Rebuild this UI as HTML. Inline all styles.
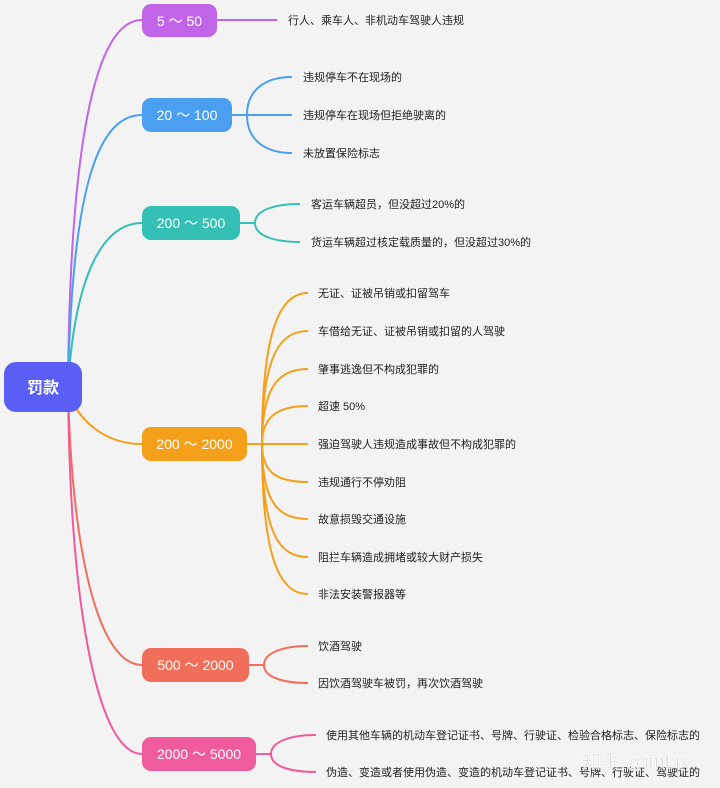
<!DOCTYPE html>
<html><head><meta charset="utf-8"><style>
html,body{margin:0;padding:0;background:#f3f3f3}
svg{display:block}
text{font-family:"Liberation Sans","Noto Sans CJK SC",sans-serif}
.t{font-size:11px;fill:#222}
.n{font-size:14px;fill:#fff;text-anchor:middle}
</style></head><body>
<svg width="720" height="788" viewBox="0 0 720 788" xmlns="http://www.w3.org/2000/svg">
<rect width="720" height="788" fill="#f3f3f3"/>
<g fill="none" stroke-width="2">
<path d="M68,387 C70,120 100,20 142,20" stroke="#c264e8"/>
<path d="M68,387 C72,180 100,115 142,115" stroke="#4a9ff0"/>
<path d="M68,387 C75,270 105,223 142,223" stroke="#34c0b5"/>
<path d="M68,387 C75,420 105,444 142,444" stroke="#f5a01a"/>
<path d="M68,387 C72,560 100,665 142,665" stroke="#f06e5a"/>
<path d="M68,387 C70,620 100,754 142,754" stroke="#ef5b9c"/>
<path d="M217,20 H277" stroke="#c264e8"/>
<g stroke="#4a9ff0"><path d="M232,115 H292"/><path d="M247,115 C247,90 265,77 292,77"/><path d="M247,115 C247,140 265,153 292,153"/></g>
<g stroke="#34c0b5"><path d="M240,223 H255 C255,210 275,204 300,204"/><path d="M255,223 C255,236 275,242 300,242"/></g>
<g stroke="#f5a01a"><path d="M247,444 H308"/>
<path d="M262,444 C262,330 280,293 308,293"/>
<path d="M262,444 C262,355 280,331 308,331"/>
<path d="M262,444 C262,385 280,369 308,369"/>
<path d="M262,444 C262,415 280,406 308,406"/>
<path d="M262,444 C262,475 280,482 308,482"/>
<path d="M262,444 C262,505 280,519 308,519"/>
<path d="M262,444 C262,535 280,557 308,557"/>
<path d="M262,444 C262,560 280,594 308,594"/></g>
<g stroke="#f06e5a"><path d="M249,665 H264 C264,652 285,646 308,646"/><path d="M264,665 C264,678 285,683 308,683"/></g>
<g stroke="#ef5b9c"><path d="M256,754 H271 C271,741 292,735 316,735"/><path d="M271,754 C271,767 292,772 316,772"/></g>
</g>
<rect x="4" y="362" width="78" height="50" rx="12" fill="#5b5ef5"/>
<text x="43" y="393" class="n" style="font-size:16px;font-weight:bold">罚款</text>
<rect x="142" y="4" width="75" height="33" rx="9" fill="#c264e8"/><text x="179.5" y="26" class="n">5 ～ 50</text>
<rect x="142" y="98" width="90" height="34" rx="9" fill="#4a9ff0"/><text x="187" y="120" class="n">20 ～ 100</text>
<rect x="142" y="206" width="98" height="34" rx="9" fill="#34c0b5"/><text x="191" y="228" class="n">200 ～ 500</text>
<rect x="142" y="427" width="105" height="34" rx="9" fill="#f5a01a"/><text x="194.5" y="449" class="n">200 ～ 2000</text>
<rect x="142" y="648" width="107" height="34" rx="9" fill="#f06e5a"/><text x="195.5" y="670" class="n">500 ～ 2000</text>
<rect x="142" y="737" width="114" height="34" rx="9" fill="#ef5b9c"/><text x="199" y="759" class="n">2000 ～ 5000</text>
<text class="t" x="288" y="24">行人、乘车人、非机动车驾驶人违规</text>
<text class="t" x="303" y="81">违规停车不在现场的</text>
<text class="t" x="303" y="119">违规停车在现场但拒绝驶离的</text>
<text class="t" x="303" y="157">未放置保险标志</text>
<text class="t" x="311" y="208">客运车辆超员，但没超过20%的</text>
<text class="t" x="311" y="246">货运车辆超过核定载质量的，但没超过30%的</text>
<text class="t" x="318" y="297">无证、证被吊销或扣留驾车</text>
<text class="t" x="318" y="335">车借给无证、证被吊销或扣留的人驾驶</text>
<text class="t" x="318" y="373">肇事逃逸但不构成犯罪的</text>
<text class="t" x="318" y="410">超速 50%</text>
<text class="t" x="318" y="448">强迫驾驶人违规造成事故但不构成犯罪的</text>
<text class="t" x="318" y="486">违规通行不停劝阻</text>
<text class="t" x="318" y="523">故意损毁交通设施</text>
<text class="t" x="318" y="561">阻拦车辆造成拥堵或较大财产损失</text>
<text class="t" x="318" y="598">非法安装警报器等</text>
<text class="t" x="318" y="650">饮酒驾驶</text>
<text class="t" x="318" y="687">因饮酒驾驶车被罚，再次饮酒驾驶</text>
<text class="t" x="326" y="739">使用其他车辆的机动车登记证书、号牌、行驶证、检验合格标志、保险标志的</text>
<text class="t" x="326" y="776">伪造、变造或者使用伪造、变造的机动车登记证书、号牌、行驶证、驾驶证的</text>
<text x="582" y="768" style="font-size:19px;fill:#c8c8c8;stroke:#fff;stroke-width:0.8;opacity:0.9">知乎 @imLix</text>
</svg>
</body></html>
